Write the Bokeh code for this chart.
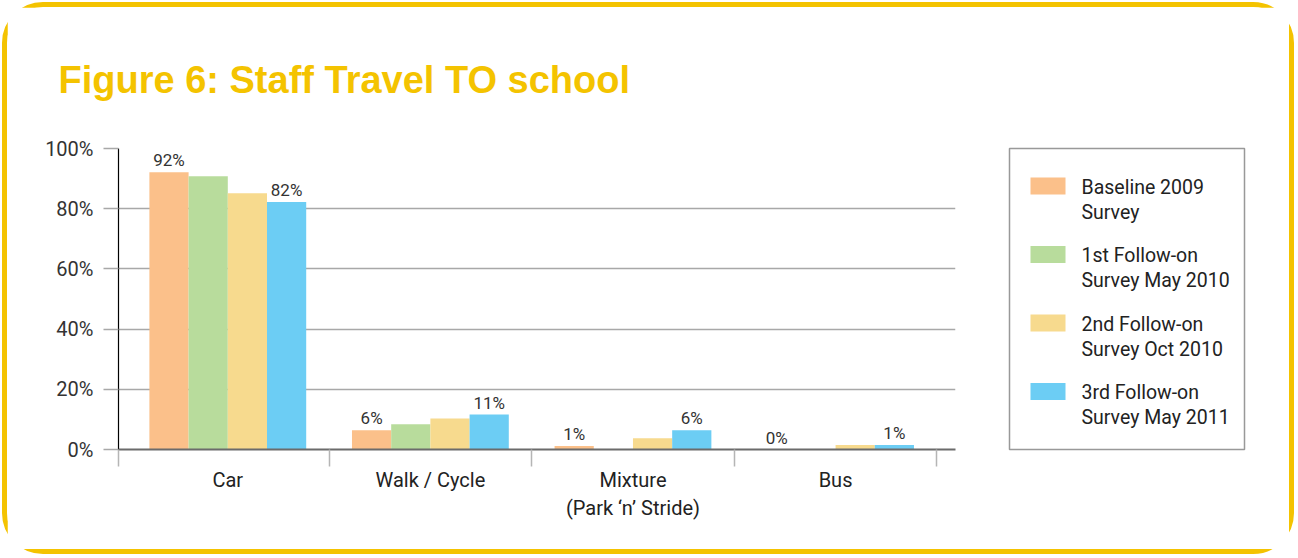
from bokeh.plotting import figure
from bokeh.layouts import row
from bokeh.models import (ColumnDataSource, FixedTicker, PrintfTickFormatter, Range1d)
from bokeh.transform import dodge
from bokeh.embed import file_html
from bokeh.resources import INLINE
from bokeh.core.properties import value

# ---- data ----
categories = ["Car", "Walk / Cycle", "Mixture\n(Park \u2018n\u2019 Stride)", "Bus"]
series_names = ["Baseline 2009\nSurvey", "1st Follow-on\nSurvey May 2010",
                "2nd Follow-on\nSurvey Oct 2010", "3rd Follow-on\nSurvey May 2011"]
baseline_2009 = [92.1, 6.4, 1.2, 0.0]
follow_on_1 = [90.8, 8.4, 0.0, 0.0]
follow_on_2 = [85.1, 10.3, 3.7, 1.5]
follow_on_3 = [82.2, 11.6, 6.4, 1.5]
baseline_labels = ["92%", "6%", "1%", "0%"]
follow_on_3_labels = ["82%", "11%", "6%", "1%"]
y_ticks = [0, 20, 40, 60, 80, 100]
colors = ["#FBC08A", "#B8DC9C", "#F7DA8E", "#6CCDF4"]

FONT = "Roboto"
YELLOW = "#F4C300"
H = 542
x_idx = list(range(len(categories)))
src = ColumnDataSource(dict(x=x_idx, s0=baseline_2009, s1=follow_on_1, s2=follow_on_2,
                            s3=follow_on_3, l0=baseline_labels, l3=follow_on_3_labels))

x_start, x_end = -0.5395, 3.592
p = figure(width=968, height=H, output_backend="svg", toolbar_location=None,
           x_range=Range1d(x_start, x_end), y_range=Range1d(0, 100),
           min_border_left=111, min_border_right=20, min_border_top=141, min_border_bottom=98)
p.outline_line_color = None

# title
p.title.text = "Figure 6: Staff Travel TO school"
p.title.text_font = "Liberation Sans"
p.title.text_font_style = "bold"
p.title.text_font_size = "38px"
p.title.text_color = YELLOW
p.title.align = "left"
p.title.vertical_align = "top"
p.title.offset = -60
p.title.standoff = 91

bw = 0.1935
offsets = [-1.5 * bw, -0.5 * bw, 0.5 * bw, 1.5 * bw]
for i, col in enumerate(["s0", "s1", "s2", "s3"]):
    p.vbar(x=dodge("x", offsets[i], range=p.x_range), top=col, width=bw, bottom=0,
           source=src, fill_color=colors[i], line_color=None)

for col, topcol, off in [("l0", "s0", offsets[0]), ("l3", "s3", offsets[3])]:
    p.text(x=dodge("x", off, range=p.x_range), y=topcol, text=col, source=src,
           text_align="center", text_baseline="bottom", y_offset=-2,
           text_font=value(FONT), text_font_size="17px", text_color="#333333")

# y axis
p.yaxis.ticker = FixedTicker(ticks=y_ticks)
p.yaxis.formatter = PrintfTickFormatter(format="%d%%")
p.yaxis.axis_line_color = "black"
p.yaxis.axis_line_width = 1.2
p.yaxis.major_tick_out = 15
p.yaxis.major_tick_in = 0
p.yaxis.major_tick_line_color = "#a8a8a8"
p.yaxis.major_tick_line_width = 1.3
p.yaxis.minor_tick_line_color = None
p.yaxis.major_label_standoff = 10
p.yaxis.major_label_text_font = FONT
p.yaxis.major_label_text_font_size = "20px"
p.yaxis.major_label_text_color = "#333333"

# x axis
p.xaxis.ticker = FixedTicker(ticks=x_idx,
                             minor_ticks=[x_start] + [i + 0.5 for i in x_idx])
p.xaxis.major_label_overrides = {i: c for i, c in enumerate(categories)}
p.xaxis.axis_line_color = "#6b6b6b"
p.xaxis.axis_line_width = 2
p.xaxis.major_tick_line_color = None
p.xaxis.major_tick_out = 0
p.xaxis.major_tick_in = 0
p.xaxis.minor_tick_out = 17
p.xaxis.minor_tick_in = 0
p.xaxis.minor_tick_line_color = "#b5b5b5"
p.xaxis.minor_tick_line_width = 1.5
p.xaxis.major_label_standoff = 1
p.xaxis.major_label_text_font = FONT
p.xaxis.major_label_text_font_size = "20px"
p.xaxis.major_label_text_color = "#222222"

p.xgrid.visible = False
p.ygrid.ticker = FixedTicker(ticks=y_ticks)
p.ygrid.grid_line_color = "#a8a8a8"
p.ygrid.grid_line_width = 1.3

# ---- legend panel (separate figure, frame = legend box) ----
LW, LH = 235, 301
lg_width = 1282 - 968
lg = figure(width=lg_width, height=H, output_backend="svg", toolbar_location=None,
            x_range=Range1d(0, LW), y_range=Range1d(LH, 0),
            min_border_left=34, min_border_right=lg_width - 34 - LW,
            min_border_top=141, min_border_bottom=H - 141 - LH)
lg.axis.visible = False
lg.grid.visible = False
lg.outline_line_color = "#999999"
lg.outline_line_width = 1.5
pitch = 68.5
tops = [29 + i * pitch for i in range(4)]
lg.quad(left=[21] * 4, right=[56] * 4, top=tops, bottom=[t + 17 for t in tops],
        fill_color=colors, line_color=None)
lg.text(x=[72] * 4, y=[t - 2 for t in tops], text=series_names,
        text_baseline="top", text_align="left", text_font=value(FONT),
        text_font_size="19.5px", text_line_height=1.1, text_color="#222222")

layout = row(p, lg, width=1282, height=H)
layout.styles = {"outline": "5px solid " + YELLOW, "border-radius": "36px",
                 "margin-left": "7px", "margin-top": "7px"}

open("out.html", "w").write(file_html(layout, INLINE))
